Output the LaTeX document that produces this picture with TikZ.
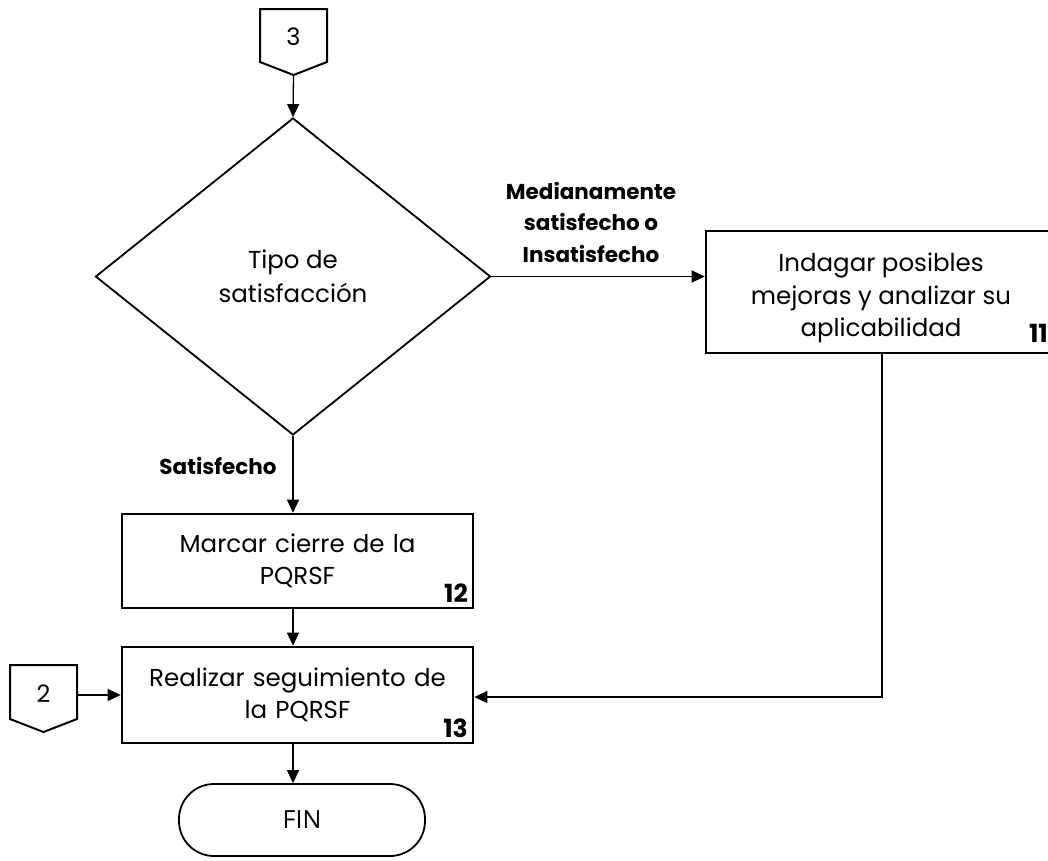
\documentclass[tikz,border=0pt]{standalone}
\usepackage{fontspec}
\setmainfont{Poppins}
\newfontfamily\finfont{Open Sans}
\usetikzlibrary{shapes.geometric,arrows.meta}
\tikzset{
  procbox/.style={draw, line width=2.6pt, align=center, font=\fontsize{24.5}{32.5}\selectfont, inner sep=0pt},
  proctext/.style={align=center, font=\fontsize{24.5}{32.5}\selectfont, inner sep=0pt},
  conn/.style={line width=1.3pt, -{Triangle[length=13pt,width=12pt]}},
  numlbl/.style={font=\bfseries\fontsize{25}{26}\selectfont, anchor=south east, inner sep=0pt},
  edgelbl/.style={font=\bfseries\fontsize{21.5}{31.5}\selectfont, align=center, inner sep=0pt},
  pageconn/.style={line width=2pt, line join=miter},
  digit/.style={font=\fontsize{24}{26}\selectfont, inner sep=0pt}
}
\begin{document}
\begin{tikzpicture}[x=1pt,y=-1pt]
\useasboundingbox (0,0) rectangle (1048,860);
\clip (0,0) rectangle (1048,860);
% off-page connector 3
\draw[pageconn] (260,9) -- (327,9) -- (327,62) -- (293.5,75) -- (260,62) -- cycle;
\node[digit] (c3) at (293.5,37) {3};
\coordinate (c3tip) at (293.5,75);
% decision
\node[draw, diamond, line width=1.8pt, minimum width=395pt, minimum height=317pt, inner sep=0pt,
      align=center, font=\fontsize{24.5}{34}\selectfont] (dec) at (293,276.5) {Tipo de\\satisfacción};
% box 11
\node[procbox, minimum width=350pt, minimum height=122pt] (b11) at (881,292) {};
\node[proctext] (t11) at (881,298) {Indagar posibles\\mejoras y analizar su\\aplicabilidad};
\node[numlbl] (n11) at (1048,343) {11};
% box 12
\node[procbox, minimum width=351pt, minimum height=94pt, text width=330pt] (b12) at (297.5,561)
  {Marcar cierre de la\\PQRSF};
\node[numlbl] (n12) at (468,603) {12};
% box 13
\node[procbox, minimum width=351pt, minimum height=96pt, text width=330pt] (b13) at (297.5,695)
  {Realizar seguimiento de\\la PQRSF};
\node[numlbl] (n13) at (468,738) {13};
% off-page connector 2
\draw[pageconn] (10,665) -- (77,665) -- (77,719) -- (43.5,732) -- (10,719) -- cycle;
\node[digit] (c2) at (43.5,694) {2};
\coordinate (c2r) at (77,695);
% terminator
\node[draw, line width=1.8pt, rounded corners=35pt, minimum width=246pt, minimum height=72pt,
      font=\finfont\fontsize{25}{26}\selectfont] (fin) at (302,820) {FIN};
% connectors
\draw[conn] (c3tip) -- (dec.north);
\draw[conn] (dec.east) -- (b11.west |- dec.east);
\node[edgelbl] (lblmed) at (591,222) {Medianamente\\satisfecho o\\Insatisfecho};
\draw[conn] (dec.south) -- (dec.south |- b12.north);
\node[edgelbl] (lblsat) at (218,466) {Satisfecho};
\draw[conn] (b12.south -| dec.south) -- (b13.north -| dec.south);
\draw[conn] (c2r) -- (b13.west |- c2r);
\coordinate (b11down) at (882,697);
\draw[conn] (b11.south -| b11down) -- (b11down) -- (b13.east |- b11down);
\draw[conn] (b13.south -| dec.south) -- (fin.north -| dec.south);
\end{tikzpicture}
\end{document}
